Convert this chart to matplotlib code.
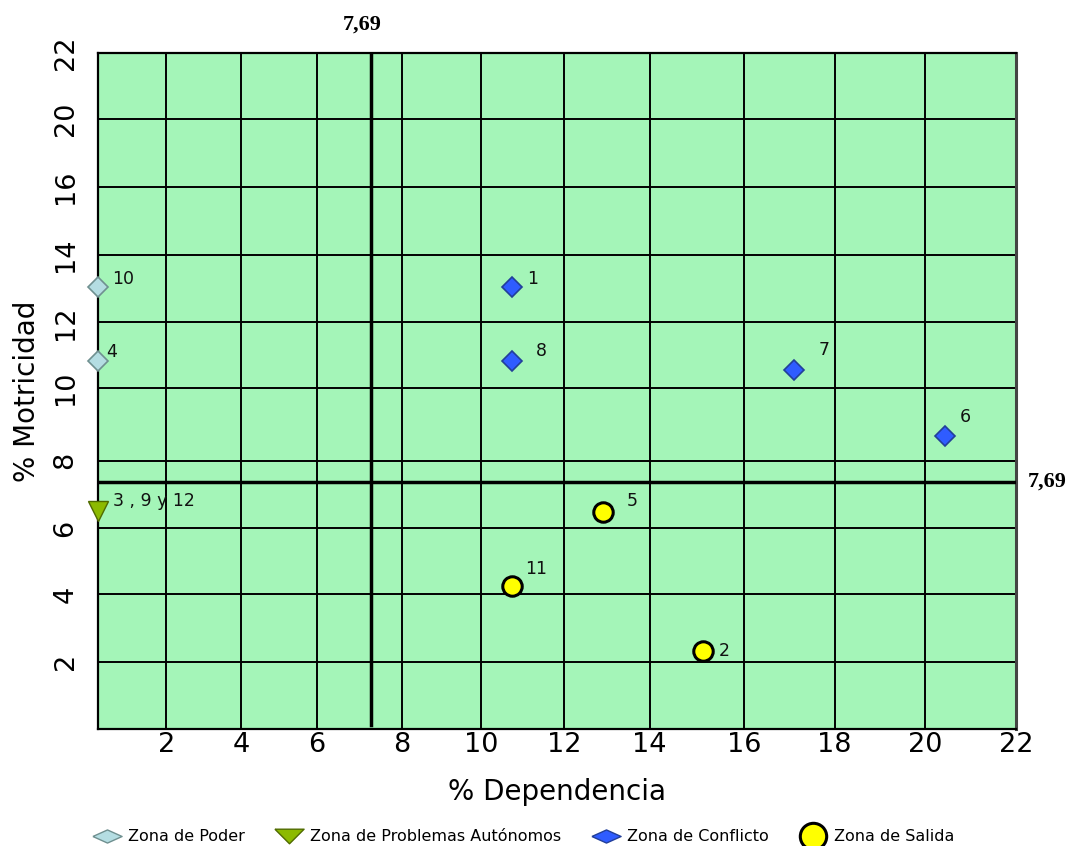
import numpy as np
import matplotlib
matplotlib.use("Agg")
import matplotlib.pyplot as plt
from matplotlib.path import Path
from matplotlib.lines import Line2D

# ---- datos (% dependencia, % motricidad) ----
poder_lbl = ["10", "4"]
poder_x = [0.0, 0.0]
poder_y = [13.05, 10.84]

auton_lbl = ["3 , 9 y 12"]
auton_x = [0.0]
auton_y = [6.52]

conf_lbl = ["1", "8", "7", "6"]
conf_x = [10.75, 10.75, 17.11, 20.44]
conf_y = [13.05, 10.84, 10.55, 8.68]

sal_lbl = ["5", "11", "2"]
sal_x = [12.92, 10.75, 15.14]
sal_y = [6.48, 4.25, 2.33]

# rectas de corte (en el original etiquetadas 7,69)
cut_x = 7.26
cut_y = 7.36
cut_label = "7,69"

x_ticks = [2, 4, 6, 8, 10, 12, 14, 16, 18, 20, 22]
y_ticks = [2, 4, 6, 8, 10, 12, 14, 16, 20, 22]

# ---- escala: las marcas del original no están equiespaciadas ----
x_nodes = [0, 2, 4, 6, 8, 10, 12, 14, 16, 18, 20, 22]
x_pix = np.array([98, 166.3, 241, 317.1, 402.2, 480.7, 564.2, 649.6, 744, 834.5, 925.4, 1016])
y_nodes = [0, 2, 4, 6, 8, 10, 12, 14, 16, 20, 22]
y_pix = -np.array([729.3, 661.7, 594, 528, 460.7, 388.3, 322.3, 254.7, 186.7, 119, 52.7])

W, H = 1072, 846
fig = plt.figure(figsize=(W / 100, H / 100), dpi=100)
ax = fig.add_axes([98 / W, 1 - 729.3 / H, (1016 - 98) / W, (729.3 - 52.7) / H])
ax.set_xscale("function", functions=(lambda v: np.interp(v, x_nodes, x_pix),
                                     lambda p: np.interp(p, x_pix, x_nodes)))
ax.set_yscale("function", functions=(lambda v: np.interp(v, y_nodes, y_pix),
                                     lambda p: np.interp(p, y_pix, y_nodes)))
ax.set_xlim(0, 22)
ax.set_ylim(0, 22)
ax.set_facecolor("#a4f5b8")

ax.set_xticks(x_ticks)
ax.set_xticklabels([str(t) for t in x_ticks])
ax.set_yticks(y_ticks)
ax.set_yticklabels([str(t) for t in y_ticks], rotation=90, va="center")
ax.tick_params(axis="x", length=0, pad=2, labelsize=19.5)
ax.tick_params(axis="y", length=0, pad=14, labelsize=19.5)
ax.grid(True, color="black", lw=1.4)
ax.set_axisbelow(True)
for s in ["left", "top", "bottom"]:
    ax.spines[s].set_linewidth(1.6)
ax.spines["right"].set_color("#444444")
ax.spines["right"].set_linewidth(2.2)

# rectas de corte
ax.plot([cut_x, cut_x], [0.13, 22], color="black", lw=2.5, zorder=3)
ax.plot([0, 22], [cut_y, cut_y], color="black", lw=2.5, zorder=3)
ax.annotate(cut_label, xy=(cut_x, 22), xytext=(-9, 28), textcoords="offset pixels",
            ha="center", va="center", fontsize=16, fontweight="bold",
            family="Liberation Serif", annotation_clip=False)
ax.annotate(cut_label, xy=(22, cut_y), xytext=(12, 1), textcoords="offset pixels",
            ha="left", va="center", fontsize=16, fontweight="bold",
            family="Liberation Serif", annotation_clip=False)

ax.plot(poder_x, poder_y, ls="none", marker="D", ms=10, mfc="#b4dde2", mec="#6f9090",
        mew=1.2, clip_on=False, zorder=5)
ax.plot(auton_x, auton_y, ls="none", marker="v", ms=14, mfc="#8cba00", mec="#4f6a00",
        mew=1.0, clip_on=False, zorder=5)
ax.plot(conf_x, conf_y, ls="none", marker="D", ms=10, mfc="#2f5cff", mec="#223f99",
        mew=1.2, clip_on=False, zorder=5)
ax.plot(sal_x, sal_y, ls="none", marker="o", ms=14, mfc="#ffff00", mec="black",
        mew=2.2, clip_on=False, zorder=5)

# etiquetas de los puntos (desplazamiento en px)
offsets = {"10": (14, 8), "4": (8, 9), "3 , 9 y 12": (15, 10), "1": (15, 8),
           "8": (24, 10), "7": (24, 20), "6": (14, 19), "5": (23, 11),
           "11": (13, 17), "2": (15, 0)}
for lbls, xs, ys in [(poder_lbl, poder_x, poder_y), (auton_lbl, auton_x, auton_y),
                     (conf_lbl, conf_x, conf_y), (sal_lbl, sal_x, sal_y)]:
    for t, xv, yv in zip(lbls, xs, ys):
        ax.annotate(t, xy=(xv, yv), xytext=offsets[t], textcoords="offset pixels",
                    ha="left", va="center", fontsize=12.5, color="#111111",
                    annotation_clip=False, zorder=6)

ax.set_xlabel("% Dependencia", fontsize=20, labelpad=14)
ax.set_ylabel("% Motricidad", fontsize=20, labelpad=8)

# leyenda
flat_diamond = Path([(-1, 0), (0, 0.45), (1, 0), (0, -0.45), (-1, 0)])
flat_tri = Path([(-1, 0.5), (1, 0.5), (0, -0.5), (-1, 0.5)])
handles = [
    Line2D([], [], ls="none", marker=flat_diamond, ms=21, mfc="#b4dde2", mec="#6f9090", mew=1.0),
    Line2D([], [], ls="none", marker=flat_tri, ms=21, mfc="#8cba00", mec="#4f6a00", mew=1.0),
    Line2D([], [], ls="none", marker=flat_diamond, ms=21, mfc="#2f5cff", mec="#223f99", mew=1.0),
    Line2D([], [], ls="none", marker="o", ms=19, mfc="#ffff00", mec="black", mew=2.2),
]
names = ["Zona de Poder", "Zona de Problemas Autónomos", "Zona de Conflicto", "Zona de Salida"]
fig.legend(handles, names, loc="center", bbox_to_anchor=(0.489, 1 - 836.7 / H), ncol=4,
           frameon=False, fontsize=11.5, handlelength=1.6, handletextpad=0.5,
           columnspacing=2.0, borderpad=0)

fig.savefig("out.png", dpi=100)
